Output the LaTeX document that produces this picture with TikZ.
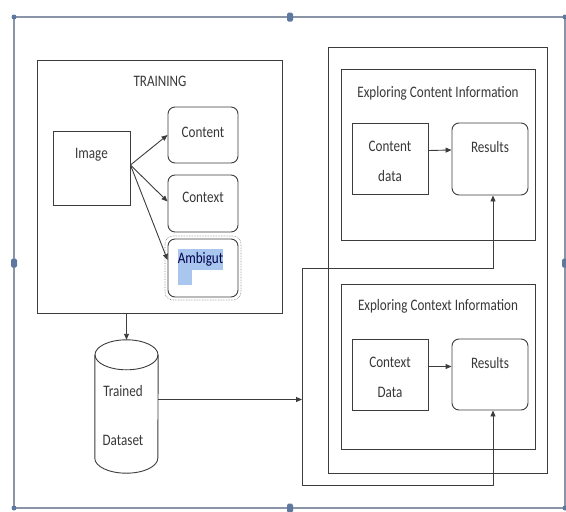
\documentclass[tikz,border=0pt]{standalone}
\usepackage{fontspec}
\setmainfont{Carlito}[FakeStretch=0.82]
\usetikzlibrary{arrows.meta,calc}

\definecolor{linegray}{HTML}{3C3C3C}
\definecolor{textgray}{HTML}{383838}
\definecolor{framegray}{HTML}{8A96A8}
\definecolor{handleblue}{HTML}{5F78A0}
\definecolor{selblue}{HTML}{A9C7EE}

\tikzset{
  frame/.style={draw=framegray, line width=1.3pt},
  handle/.style={fill=handleblue, draw=none, inner sep=0pt, minimum width=6pt, minimum height=9pt, rounded corners=1.5pt},
  corner/.style={fill=handleblue, draw=none, inner sep=0pt, circle, minimum size=5pt},
  plainbox/.style={draw=linegray, line width=0.9pt, inner sep=0pt},
  roundbox/.style={plainbox, rounded corners=7pt},
  line/.style={draw=linegray, line width=0.9pt},
  txt/.style={text=textgray, font=\fontsize{16}{18}\selectfont, align=center},
  arrow/.style={line, -{Triangle[length=6pt,width=5pt]}},
}

\begin{document}
\begin{tikzpicture}[x=1pt,y=-1pt]
        \useasboundingbox (0,0) rectangle (566,512);

        % === SELECTION FRAME ===
        \draw[frame] (14,17) rectangle (565,508);
        \foreach \px/\py [count=\i] in {14/17, 565/17, 14/508, 565/508}
            \node[corner] (c\i) at (\px,\py) {};
        \foreach \px/\py [count=\i] in {290/17, 14/263, 565/263, 290/508}
            \node[handle] (h\i) at (\px,\py) {};

        % === TRAINING ===
        \node[plainbox, minimum width=245pt, minimum height=253pt] (training) at (159.5,186.5) {};
        \node[txt] (traintitle) at (160,81) {TRAINING};

        \node[plainbox, minimum width=77pt, minimum height=74pt] (image) at (91.5,168) {};
        \node[txt] (imagetxt) at (91.5,155) {Image};

        \node[roundbox, minimum width=70pt, minimum height=56pt] (content) at (203,135) {};
        \node[txt] (contenttxt) at (203,132) {Content};
        \node[roundbox, minimum width=70pt, minimum height=57pt] (context) at (203,203.5) {};
        \node[txt] (contexttxt) at (203,197) {Context};

        % selected text box
        \node[roundbox, minimum width=70pt, minimum height=58pt] (ambig) at (203,268) {};
        \draw[gray, densely dotted, line width=0.6pt, rounded corners=8pt] (165,236) rectangle (241,300);
        \fill[selblue] (178,249) rectangle (223,270);
        \fill[selblue] (178,270) rectangle (192,285);
        \node[txt, text=blue!30!black] (ambigtxt) at (200.5,259) {Ambigut};

        \draw[arrow] ($(image.east)+(0,-3)$) -- (content.west);
        \draw[arrow] ($(image.east)+(0,-3)$) -- ($(context.west)+(0,-2)$);
        \draw[arrow] ($(image.east)+(0,-3)$) -- ($(ambig.west)+(0,-8)$);

        % === DATASET ===
        \node[minimum width=63pt, minimum height=133pt, inner sep=0pt] (dataset) at (126.5,406.5) {};
        \draw[line] ($(dataset.north west)+(0,15)$) -- ($(dataset.south west)+(0,-15)$)
            arc[start angle=180, end angle=360, x radius=31.5pt, y radius=15pt]
            -- ($(dataset.north east)+(0,15)$);
        \draw[line] ($(dataset.north)+(0,15)$) ellipse [x radius=31.5pt, y radius=15pt];
        \node[txt] (datasettxt) at (123,415.5) {Trained\\[31pt]Dataset};

        \draw[arrow] (training.south -| dataset.north) -- (dataset.north);

        % === EXPLORING ===
        \node[plainbox, minimum width=219pt, minimum height=426pt] (explore) at (437.5,260) {};

        \node[plainbox, minimum width=194pt, minimum height=171pt] (contentinfo) at (438,154.5) {};
        \node[txt] (contentinfotxt) at (438,93) {Exploring Content Information};
        \node[plainbox, minimum width=76pt, minimum height=71pt] (cdata) at (390,158.5) {};
        \node[txt] (cdatatxt) at (390,161) {Content\\[12pt]data};
        \node[roundbox, minimum width=76pt, minimum height=72pt] (res1) at (490,159) {};
        \node[txt] (res1txt) at (490,147) {Results};

        \node[plainbox, minimum width=194pt, minimum height=165pt] (contextinfo) at (438,366.5) {};
        \node[txt] (contextinfotxt) at (438,306) {Exploring Context Information};
        \node[plainbox, minimum width=76pt, minimum height=71pt] (xdata) at (390,374.5) {};
        \node[txt] (xdatatxt) at (390,377) {Context\\[12pt]Data};
        \node[roundbox, minimum width=76pt, minimum height=71pt] (res2) at (490,374.5) {};
        \node[txt] (res2txt) at (490,363) {Results};

        \draw[arrow] ($(cdata.east)+(0,-8)$) -- ($(res1.west)+(0,-9)$);
        \draw[arrow] ($(xdata.east)+(0,-8)$) -- ($(res2.west)+(0,-8)$);

        % === FEEDBACK LINES ===
        \coordinate (jtop) at (302,268);
        \coordinate (jbot) at (302,485);
        \draw[arrow] (jtop) -| ($(res1.south)+(3,0)$);
        \draw[arrow] (jtop) -- (jbot) -| ($(res2.south)+(3,0)$);
        \draw[arrow] ($(dataset.east)+(0,-7)$) coordinate (dsout) -- (dsout -| jtop);

    \end{tikzpicture}
\end{document}
